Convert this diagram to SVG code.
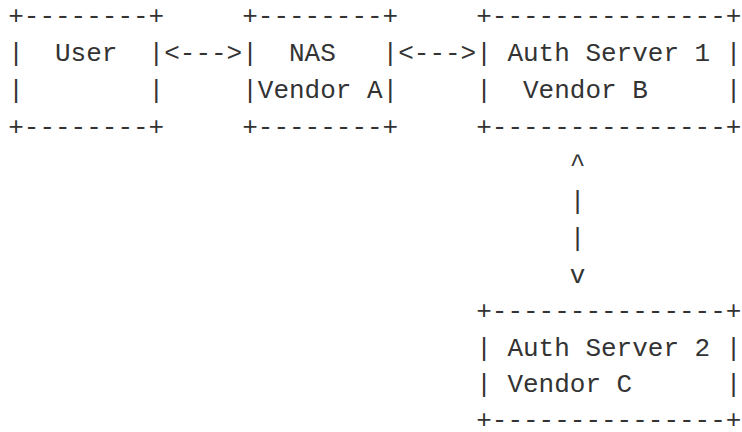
<svg xmlns="http://www.w3.org/2000/svg" width="742" height="432" viewBox="0 0 742 432">
  <style>
    text { font-family: "Liberation Mono", "DejaVu Sans Mono", monospace; font-size: 26px; fill: #333333; white-space: pre; }
  </style>
  <rect width="742" height="432" fill="#ffffff"/>
  <!-- grid: column i starts at x = 8.2 + 15.6*i, rows roughly 37px apart -->
  <g id="user" xml:space="preserve">
    <text x="8.2" y="24">+--------+</text>
    <text x="8.2" y="61">|  User  |</text>
    <text x="8.2" y="98">|        |</text>
    <text x="8.2" y="135">+--------+</text>
  </g>
  <g id="nas" xml:space="preserve">
    <text x="242.2" y="24">+--------+</text>
    <text x="242.2" y="61">|  NAS   |</text>
    <text x="242.2" y="98">|Vendor A|</text>
    <text x="242.2" y="135">+--------+</text>
  </g>
  <g id="auth-server-1" xml:space="preserve">
    <text x="476.2" y="24">+---------------+</text>
    <text x="476.2" y="61">| Auth Server 1 |</text>
    <text x="476.2" y="98">|  Vendor B     |</text>
    <text x="476.2" y="135">+---------------+</text>
  </g>
  <g id="auth-server-2" xml:space="preserve">
    <text x="476.2" y="319">+---------------+</text>
    <text x="476.2" y="356">| Auth Server 2 |</text>
    <text x="476.2" y="392">| Vendor C      |</text>
    <text x="476.2" y="428">+---------------+</text>
  </g>
  <g id="connectors" xml:space="preserve">
    <text x="164.2" y="61">&lt;---&gt;</text>
    <text x="398.2" y="61">&lt;---&gt;</text>
    <text x="569.8" y="172">^</text>
    <text x="569.8" y="209">|</text>
    <text x="569.8" y="246">|</text>
    <text x="569.8" y="283">v</text>
  </g>
</svg>
